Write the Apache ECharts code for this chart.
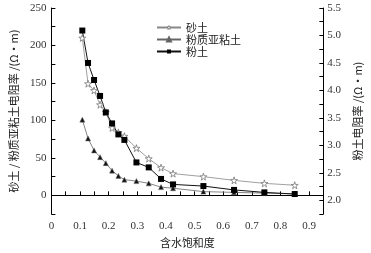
<!DOCTYPE html>
<html>
<head>
<meta charset="utf-8">
<script src="https://cdn.jsdelivr.net/npm/echarts@6/dist/echarts.min.js"></script>
<style>
  html, body { margin: 0; padding: 0; background: #fff; }
  #ec { width: 371px; height: 253px; }
</style>
</head>
<body>
<div id="ec"></div>
<script>
// 含水饱和度
const saturation = [0.108, 0.128, 0.149, 0.17, 0.19, 0.212, 0.234, 0.255, 0.297, 0.34, 0.383, 0.425, 0.531, 0.638, 0.744, 0.85];
// 砂土 (left axis)
const sandy = [210, 149, 140, 121, 111, 90, 84, 79, 63, 49, 37, 29, 25, 20, 16, 13.5];
// 粉质亚粘土 (left axis)
const siltyClay = [101, 76, 60, 51, 43, 33, 26, 21, 19, 16, 11, 9.5, 5, 4, 3, 2];
// 粉土 (right axis)
const silt = [5.09, 4.5, 4.19, 3.9, 3.6, 3.4, 3.2, 3.1, 2.69, 2.6, 2.39, 2.29, 2.26, 2.19, 2.145, 2.115];

const serif = "'Liberation Serif', 'Noto Sans CJK SC', serif";
const cjk = "'Noto Sans CJK SC', sans-serif";
const star = "path://M50,0 L61,35 L98,35 L68,57 L79,91 L50,70 L21,91 L32,57 L2,35 L39,35 Z";

function pairs(xs, ys) {
  return xs.map((x, i) => [x, ys[i]]);
}

const chart = echarts.init(document.getElementById("ec"));
chart.setOption({
  animation: false,
  grid: { left: 46, right: 41, top: 8, bottom: 34 },
  legend: {
    orient: "vertical",
    left: 151,
    top: 17,
    itemGap: 1,
    itemWidth: 24,
    itemHeight: 5,
    textStyle: { fontFamily: cjk, fontSize: 11, color: "#222" },
    data: [
      { name: "砂土", itemStyle: { color: "#fff", borderColor: "#777", borderWidth: 0.8 } },
      { name: "粉质亚粘土" },
      { name: "粉土" },
    ],
  },
  xAxis: {
    type: "value",
    min: 0,
    max: 0.95,
    interval: 0.05,
    name: "含水饱和度",
    nameLocation: "middle",
    nameGap: 21,
    nameTextStyle: { fontFamily: cjk, fontSize: 11, color: "#222" },
    axisLine: { lineStyle: { color: "#000", width: 1 } },
    axisTick: { inside: true, length: 4, lineStyle: { color: "#000" } },
    splitLine: { show: false },
    axisLabel: {
      fontFamily: serif,
      fontSize: 11,
      color: "#333",
      margin: 7,
      formatter: (v) => {
        const k = Math.round(v * 100);
        if (k % 10 !== 0) return "";
        return k === 0 ? "0" : (k / 100).toFixed(1);
      },
    },
  },
  yAxis: [
    {
      type: "value",
      min: -25,
      max: 250,
      interval: 25,
      name: "砂土 / 粉质亚粘土电阻率 /(Ω·m)",
      nameLocation: "middle",
      nameRotate: 90,
      nameGap: 22,
      nameTextStyle: { fontFamily: cjk, fontSize: 11, color: "#222" },
      axisLine: { show: true, lineStyle: { color: "#000", width: 1 } },
      axisTick: { show: true, inside: true, length: 4, lineStyle: { color: "#000" } },
      splitLine: { show: false },
      axisLabel: {
        fontFamily: serif,
        fontSize: 11,
        color: "#333",
        margin: 5,
        formatter: (v) => (v >= 0 && v % 50 === 0 ? String(v) : ""),
      },
    },
    {
      type: "value",
      min: 1.75,
      max: 5.5,
      interval: 0.25,
      position: "right",
      name: "粉土电阻率 /(Ω·m)",
      nameLocation: "middle",
      nameRotate: 90,
      nameGap: 26,
      nameTextStyle: { fontFamily: cjk, fontSize: 11, color: "#222" },
      axisLine: { show: true, lineStyle: { color: "#000", width: 1 } },
      axisTick: { show: true, inside: true, length: 4, lineStyle: { color: "#000" } },
      splitLine: { show: false },
      axisLabel: {
        fontFamily: serif,
        fontSize: 11,
        color: "#333",
        margin: 4,
        formatter: (v) => {
          const k = Math.round(v * 100);
          return k >= 200 && k % 50 === 0 ? (k / 100).toFixed(1) : "";
        },
      },
    },
  ],
  series: [
    {
      name: "砂土",
      type: "line",
      yAxisIndex: 0,
      data: pairs(saturation, sandy),
      symbol: star,
      symbolSize: 7,
      lineStyle: { color: "#888", width: 0.8 },
      itemStyle: { color: "#fff", borderColor: "#777", borderWidth: 0.8 },
    },
    {
      name: "粉质亚粘土",
      type: "line",
      yAxisIndex: 0,
      data: pairs(saturation, siltyClay),
      symbol: "triangle",
      symbolSize: 5,
      lineStyle: { color: "#666", width: 0.8 },
      itemStyle: { color: "#111", borderColor: "#666", borderWidth: 0.5 },
    },
    {
      name: "粉土",
      type: "line",
      yAxisIndex: 1,
      data: pairs(saturation, silt),
      symbol: "rect",
      symbolSize: 6,
      lineStyle: { color: "#111", width: 1 },
      itemStyle: { color: "#000" },
    },
  ],
});
</script>
</body>
</html>
